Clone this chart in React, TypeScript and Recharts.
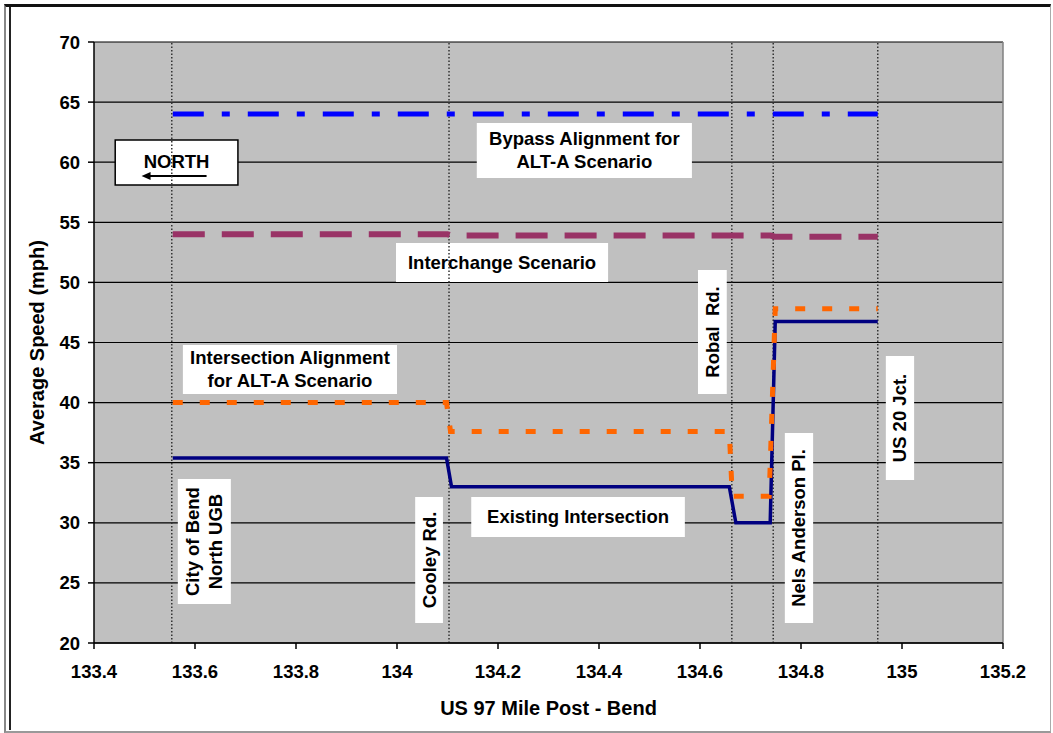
import React from 'react';
import {
  LineChart,
  Line,
  XAxis,
  YAxis,
  CartesianGrid,
  ReferenceLine,
  ReferenceArea,
} from 'recharts';

const mileTicks = [133.4, 133.6, 133.8, 134, 134.2, 134.4, 134.6, 134.8, 135, 135.2];
const speedTicks = [20, 25, 30, 35, 40, 45, 50, 55, 60, 65, 70];

// speeds along US 97
const bypassMile = [133.556, 134.952];
const bypassSpeed = [64, 64];

const interchangeMile = [133.556, 134.1, 134.108, 134.74, 134.748, 134.952];
const interchangeSpeed = [54.0, 54.0, 53.9, 53.9, 53.8, 53.8];

const altAMile = [133.556, 134.098, 134.106, 134.658, 134.664, 134.737, 134.749, 134.952];
const altASpeed = [40, 40, 37.6, 37.6, 32.2, 32.2, 47.8, 47.8];

const existingMile = [133.556, 134.098, 134.108, 134.658, 134.671, 134.739, 134.749, 134.952];
const existingSpeed = [35.4, 35.4, 33.0, 33.0, 30.0, 30.0, 46.75, 46.75];

// dotted landmark lines
const landmarkMiles = [133.554, 134.103, 134.663, 134.745, 134.952];

const toRows = (miles: number[], speeds: number[]) =>
  miles.map((mile, i) => ({ mile, speed: speeds[i] }));

// text boxes, placed in chart units
type Note = {
  lines: string[];
  x1: number;
  x2: number;
  y1: number;
  y2: number;
  vertical?: boolean;
  north?: boolean;
};

const notes: Note[] = [
  { lines: ['NORTH'], x1: 133.442, x2: 133.685, y1: 58.1, y2: 61.85, north: true },
  { lines: ['Bypass Alignment for', 'ALT-A Scenario'], x1: 134.158, x2: 134.584, y1: 58.69, y2: 63.26 },
  { lines: ['Interchange Scenario'], x1: 133.998, x2: 134.418, y1: 50.03, y2: 53.28 },
  { lines: ['Intersection Alignment', 'for ALT-A Scenario'], x1: 133.576, x2: 134.0, y1: 40.72, y2: 44.79 },
  { lines: ['Existing Intersection'], x1: 134.147, x2: 134.57, y1: 28.82, y2: 32.15 },
  { lines: ['City of Bend', 'North UGB'], x1: 133.566, x2: 133.671, y1: 23.24, y2: 33.64, vertical: true },
  { lines: ['Cooley Rd.'], x1: 134.036, x2: 134.091, y1: 21.67, y2: 32.15, vertical: true },
  { lines: ['Robal  Rd.'], x1: 134.596, x2: 134.653, y1: 40.72, y2: 51.03, vertical: true },
  { lines: ['Nels Anderson Pl.'], x1: 134.768, x2: 134.824, y1: 21.67, y2: 37.47, vertical: true },
  { lines: ['US 20 Jct.'], x1: 134.968, x2: 135.024, y1: 33.56, y2: 43.88, vertical: true },
];

const FONT = '"Liberation Sans", Arial, sans-serif';
const LH = 23;

function NoteText({ viewBox, note }: { viewBox: any; note: Note }) {
  if (!viewBox) return null;
  const { x, y, width, height } = viewBox;
  const cx = x + width / 2;
  const cy = y + height / 2;
  const textStyle = {
    fontFamily: FONT,
    fontSize: 18.5,
    fontWeight: 700,
    fill: '#000',
    whiteSpace: 'pre' as const,
  };

  if (note.north) {
    return (
      <g>
        <text x={cx} y={y + 28} textAnchor="middle" style={textStyle}>
          NORTH
        </text>
        <line x1={cx - 28} y1={y + 36} x2={cx + 30} y2={y + 36} stroke="#000" strokeWidth={2} />
        <polygon points={`${cx - 35},${y + 36} ${cx - 26},${y + 32} ${cx - 26},${y + 40}`} fill="#000" />
      </g>
    );
  }

  const n = note.lines.length;
  const first = -((n - 1) / 2) * LH + 6.5;
  return (
    <text
      transform={note.vertical ? `rotate(-90 ${cx} ${cy})` : undefined}
      textAnchor="middle"
      style={textStyle}
    >
      {note.lines.map((l, i) => (
        <tspan key={i} x={cx} y={cy + first + i * LH}>
          {l}
        </tspan>
      ))}
    </text>
  );
}

export default function App() {
  const tickStyle = { fill: '#000', fontSize: 18.5, fontWeight: 700, fontFamily: FONT };
  const titleStyle = { fill: '#000', fontSize: 20, fontWeight: 700, fontFamily: FONT };

  return (
    <div
      style={{
        position: 'absolute',
        left: 0,
        top: 0,
        width: 1053,
        height: 733,
        background: '#fff',
        fontFamily: FONT,
      }}
    >
      {/* page frame */}
      <div
        style={{
          position: 'absolute',
          left: 4,
          top: 4,
          width: 1044,
          height: 724,
          borderTop: '3px solid #111',
          borderLeft: '2px solid #888',
          borderBottom: '2px solid #999',
          borderRight: '1px solid #aaa',
        }}
      />
      <div style={{ position: 'absolute', left: 9, top: 7, width: 2, height: 723, background: '#222' }} />

      <div style={{ position: 'absolute', left: 0, top: 0 }}>
        <LineChart width={1053} height={733} margin={{ top: 42, right: 50, bottom: 15, left: 0 }}>
          <CartesianGrid vertical={false} stroke="#000" strokeWidth={1.2} fill="#c0c0c0" fillOpacity={1} />
          <XAxis
            type="number"
            dataKey="mile"
            domain={[133.4, 135.2]}
            ticks={mileTicks}
            interval={0}
            allowDataOverflow
            height={75}
            tickSize={6}
            tickMargin={16}
            axisLine={{ stroke: '#000', strokeWidth: 1.5 }}
            tickLine={{ stroke: '#000', strokeWidth: 1.5 }}
            tick={tickStyle}
            label={{ value: 'US 97 Mile Post - Bend', position: 'insideBottom', offset: 3, style: titleStyle }}
          />
          <YAxis
            type="number"
            domain={[20, 70]}
            ticks={speedTicks}
            interval={0}
            allowDataOverflow
            width={94}
            tickSize={6}
            tickMargin={8}
            axisLine={{ stroke: '#000', strokeWidth: 1.5 }}
            tickLine={{ stroke: '#000', strokeWidth: 1.5 }}
            tick={tickStyle}
            label={{
              value: 'Average Speed (mph)',
              angle: -90,
              position: 'insideLeft',
              offset: 37,
              style: { ...titleStyle, textAnchor: 'middle' },
            }}
          />
          <ReferenceLine x={135.2} stroke="#808080" strokeWidth={1.5} />
          {landmarkMiles.map((m) => (
            <ReferenceLine key={m} x={m} stroke="#333" strokeWidth={1.5} strokeDasharray="1.5 2" />
          ))}
          {notes.map((n, i) => (
            <ReferenceArea
              key={i}
              x1={n.x1}
              x2={n.x2}
              y1={n.y1}
              y2={n.y2}
              fill="#fff"
              fillOpacity={1}
              stroke={n.north ? '#000' : 'none'}
              strokeWidth={n.north ? 1.5 : 0}
              ifOverflow="visible"
              label={{ content: (p: any) => <NoteText viewBox={p.viewBox} note={n} /> }}
            />
          ))}
          <Line
            data={toRows(bypassMile, bypassSpeed)}
            dataKey="speed"
            type="linear"
            stroke="#0000ff"
            strokeWidth={5}
            strokeDasharray="31 18 8 18"
            dot={false}
            activeDot={false}
            isAnimationActive={false}
          />
          <Line
            data={toRows(interchangeMile, interchangeSpeed)}
            dataKey="speed"
            type="linear"
            stroke="#993366"
            strokeWidth={6}
            strokeDasharray="32 17"
            dot={false}
            activeDot={false}
            isAnimationActive={false}
          />
          <Line
            data={toRows(existingMile, existingSpeed)}
            dataKey="speed"
            type="linear"
            stroke="#000080"
            strokeWidth={3.5}
            dot={false}
            activeDot={false}
            isAnimationActive={false}
          />
          <Line
            data={toRows(altAMile, altASpeed)}
            dataKey="speed"
            type="linear"
            stroke="#ff6600"
            strokeWidth={5}
            strokeDasharray="10 17"
            dot={false}
            activeDot={false}
            isAnimationActive={false}
          />
        </LineChart>
      </div>
    </div>
  );
}
